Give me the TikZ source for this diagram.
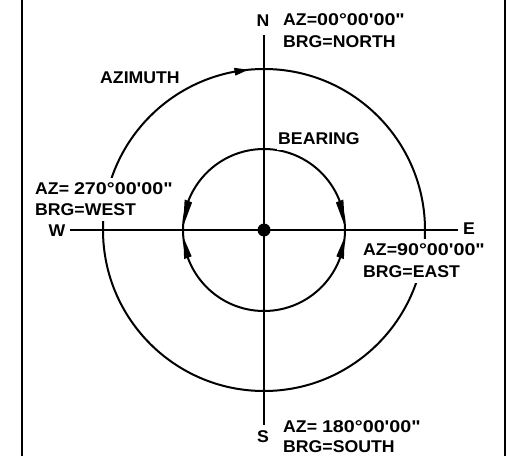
\documentclass[tikz,border=0pt]{standalone}
\usepackage{fontspec}
\setmainfont{Liberation Sans}[FakeStretch=1.04]
\newfontfamily\numf{Liberation Sans}[FakeStretch=1.16]
\usetikzlibrary{arrows.meta}
\begin{document}
\begin{tikzpicture}[x=1pt,y=1pt,
  lbl/.style={font=\fontsize{17}{19}\selectfont\bfseries, inner xsep=1pt, inner ysep=4.5pt, anchor=west, fill=white},
  dirl/.style={font=\fontsize{17}{19}\selectfont\bfseries, inner sep=0pt},
  ln/.style={line width=2pt}]
\useasboundingbox (0,0) rectangle (513,456);
% frame
\draw[line width=2pt] (22,0) -- (22,456);
\draw[line width=2pt] (505,0) -- (505,456);
% centre
\coordinate (O) at (264,226);
\coordinate (Ntop) at (264,421);
\coordinate (Sbot) at (264,31);
\coordinate (Wend) at (70,226);
\coordinate (Eend) at (458,226);
\draw[ln] (Ntop) -- (Sbot);
\draw[ln] (Wend) -- (Eend);
\draw[ln] (O) circle[radius=161];
\draw[ln] (O) circle[radius=81];
\fill (O) circle[radius=6.5];
% azimuth arrowhead
\fill[shift={(O)}] (100.5:157) -- (100.5:165) -- (95.6:161) -- cycle;
% bearing arrowheads
\fill[shift={(O)}] (21:77) -- (21:85) -- (2.5:81) -- cycle;
\fill[shift={(O)}] (159:77) -- (159:85) -- (177.5:81) -- cycle;
\fill[shift={(O)}] (-20:77) -- (-20:85) -- (-5:81) -- cycle;
\fill[shift={(O)}] (200:77) -- (200:85) -- (185:81) -- cycle;
% labels
\node[dirl] (N) at (263,435) {N};
\node[dirl] (S) at (263,19) {S};
\node[dirl] (W) at (57,225) {W};
\node[dirl] (E) at (469,227) {E};
\node[lbl] (azn) at (282,436) {AZ={\numf 00°00'00"}};
\node[lbl] (brgn) at (282,414) {BRG=NORTH};
\node[lbl] (azm) at (99,378) {AZIMUTH};
\node[lbl] (brg) at (277,317) {BEARING};
\node[lbl] (azw) at (34,267) {AZ= {\numf 270°00'00"}};
\node[lbl] (brgw) at (34,246) {BRG=WEST};
\node[lbl] (aze) at (362,206) {AZ={\numf 90°00'00"}};
\node[lbl] (brge) at (362,184) {BRG=EAST};
\node[lbl] (azs) at (282,29) {AZ= {\numf 180°00'00"}};
\node[lbl] (brgs) at (282,9) {BRG=SOUTH};
\end{tikzpicture}
\end{document}
